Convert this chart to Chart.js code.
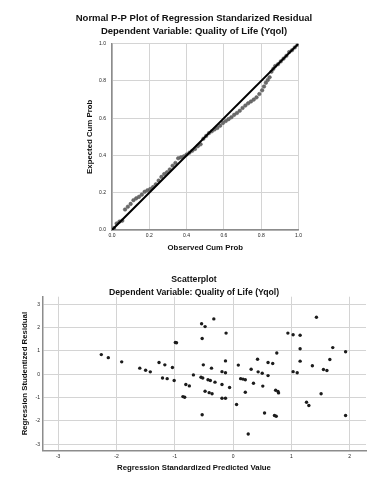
<!DOCTYPE html>
<html lang="en">
<head>
<meta charset="UTF-8">
<meta name="viewport" content="width=device-width, initial-scale=1.0">
<title>Regression plots - Quality of Life</title>
<script src="https://cdn.jsdelivr.net/npm/chart.js"></script>
<style>
  body { margin: 0; background: #fff; width: 375px; height: 480px; overflow: hidden; position: relative; }
  canvas { position: absolute; left: 0; }
  #ppChart { top: 0; }
  #scatterChart { top: 260px; }
</style>
</head>
<body>
<canvas id="ppChart" width="375" height="255"></canvas>
<canvas id="scatterChart" width="375" height="220"></canvas>
<script>
// P-P plot: observed vs expected cumulative probability
const ppObserved = [0.01, 0.025, 0.04, 0.055, 0.07, 0.085, 0.10, 0.115, 0.13, 0.145, 0.16, 0.175, 0.19, 0.205, 0.22,
  0.235, 0.25, 0.265, 0.28, 0.295, 0.31, 0.325, 0.34, 0.355, 0.37, 0.385, 0.40, 0.415, 0.43, 0.445, 0.46, 0.475,
  0.49, 0.505, 0.52, 0.535, 0.55, 0.565, 0.58, 0.595, 0.61, 0.625, 0.64, 0.655, 0.67, 0.685, 0.70, 0.715, 0.73,
  0.745, 0.76, 0.775, 0.79, 0.805, 0.815, 0.825, 0.835, 0.845, 0.855, 0.865, 0.875, 0.89, 0.905, 0.92, 0.935,
  0.95, 0.965, 0.98, 0.995];
const ppExpected = [0.01, 0.035, 0.045, 0.05, 0.11, 0.125, 0.14, 0.16, 0.17, 0.178, 0.19, 0.205, 0.213, 0.22, 0.23,
  0.245, 0.265, 0.285, 0.30, 0.31, 0.325, 0.345, 0.36, 0.385, 0.39, 0.395, 0.405, 0.415, 0.425, 0.435, 0.45, 0.46,
  0.49, 0.505, 0.52, 0.53, 0.54, 0.548, 0.56, 0.575, 0.585, 0.595, 0.605, 0.618, 0.628, 0.64, 0.655, 0.668, 0.68,
  0.69, 0.70, 0.712, 0.73, 0.75, 0.77, 0.79, 0.805, 0.82, 0.85, 0.865, 0.88, 0.89, 0.905, 0.92, 0.935,
  0.955, 0.965, 0.98, 0.995];
const ppLineX = [0, 1];
const ppLineY = [0, 1];
const ppTicks = [0, 0.2, 0.4, 0.6, 0.8, 1.0];

// Scatterplot: standardized predicted value vs studentized residual
const predicted = [-2.26, -2.14, -1.91, -1.60, -1.50, -1.42, -1.27, -1.17, -1.04, -0.99, -0.97, -1.21, -1.13, -1.01,
  -0.81, -0.75, -0.86, -0.83, -0.68, -0.55, -0.52, -0.51, -0.37, -0.54, -0.48, -0.33, -0.53, -0.12, -0.43, -0.39,
  -0.31, -0.19, -0.13, -0.13, -0.48, -0.41, -0.36, -0.19, -0.06, -0.19, -0.13, -0.53, 0.06, 0.26, 0.09, 0.13, 0.17,
  0.21, 0.21, 0.31, 0.35, 0.42, 0.43, 0.50, 0.51, 0.60, 0.60, 0.68, 0.75, 0.73, 0.77, 0.78, 0.54, 0.71, 0.74,
  0.94, 1.03, 1.15, 1.15, 1.15, 1.03, 1.10, 1.36, 1.43, 1.51, 1.26, 1.30, 1.55, 1.61, 1.66, 1.71, 1.93, 1.93];
const residual = [0.84, 0.71, 0.53, 0.26, 0.17, 0.10, 0.50, 0.40, 0.29, 1.36, 1.35, -0.16, -0.19, -0.27,
  -0.44, -0.50, -0.96, -0.99, -0.03, -0.13, -0.16, 0.40, 0.26, 2.16, 2.04, 2.37, 1.53, 1.76, -0.24, -0.27,
  -0.34, 0.11, 0.06, 0.57, -0.73, -0.79, -0.84, -0.44, -0.57, -1.03, -1.03, -1.74, -1.30, -2.56, 0.39, -0.19, -0.21,
  -0.24, -0.77, 0.21, -0.39, 0.64, 0.10, 0.04, -0.51, 0.50, -0.06, 0.46, 0.91, -0.69, -0.74, -0.80, -1.66, -1.77, -1.80,
  1.76, 1.69, 1.67, 1.09, 0.56, 0.11, 0.06, 0.36, 2.44, -0.84, -1.20, -1.34, 0.20, 0.16, 0.63, 1.14, 0.96, -1.77];
const scatterXTicks = [-3, -2, -1, 0, 1, 2];
const scatterYTicks = [-3, -2, -1, 0, 1, 2, 3];

Chart.defaults.font.family = "'Liberation Sans', Arial, sans-serif";
Chart.defaults.color = '#222';

const gridStyle = { color: '#d4d4d4', lineWidth: 1, drawTicks: false };
const borderStyle = { color: '#8c8c8c', width: 1.5 };
const tickFont = { size: 5 };
const axisTitleFont = { size: 7.8, weight: 'bold' };

function useTicks(values) {
  return function(scale) { scale.ticks = values.map(v => ({ value: v })); };
}

// --- top chart ---
new Chart(document.getElementById('ppChart'), {
  type: 'scatter',
  data: {
    datasets: [
      {
        type: 'line',
        data: ppLineX.map((x, i) => ({ x: x, y: ppLineY[i] })),
        borderColor: '#000', borderWidth: 2, pointRadius: 0, order: 0
      },
      {
        data: ppObserved.map((x, i) => ({ x: x, y: ppExpected[i] })),
        backgroundColor: '#6b6b6b', borderColor: '#555', borderWidth: 0.5, pointRadius: 1.8, order: 1
      }
    ]
  },
  options: {
    responsive: false, animation: false, devicePixelRatio: 1,
    layout: { padding: { left: 13, right: 0, top: 0, bottom: 0 } },
    plugins: {
      legend: { display: false }, tooltip: { enabled: false },
      title: {
        display: true,
        text: ['Normal P-P Plot of Regression Standarized Residual', 'Dependent Variable: Quality of Life (Yqol)'],
        color: '#111', font: { size: 9.5, weight: 'bold', lineHeight: 13 / 9.5 },
        padding: { top: 11.5, bottom: 6.2 }
      }
    },
    scales: {
      x: {
        type: 'linear', min: 0, max: 1,
        afterBuildTicks: useTicks(ppTicks),
        ticks: { font: tickFont, padding: 3, callback: v => v.toFixed(1) },
        grid: gridStyle, border: borderStyle,
        title: { display: true, text: 'Observed Cum Prob', font: axisTitleFont, color: '#111', padding: { top: 0, bottom: 2.9 } },
        afterFit: s => { s.height = 25; }
      },
      y: {
        type: 'linear', min: 0, max: 1,
        afterBuildTicks: useTicks(ppTicks),
        ticks: { font: tickFont, padding: 6, callback: v => v.toFixed(1) },
        grid: gridStyle, border: borderStyle,
        title: { display: true, text: 'Expected Cum Prob', font: axisTitleFont, color: '#111', padding: { top: 72.3, bottom: 0 } },
        afterFit: s => { s.width = 99; }
      },
      yr: {
        type: 'linear', position: 'right', display: true,
        grid: { display: false }, ticks: { display: false }, border: { display: false },
        afterFit: s => { s.width = 76.5; }
      }
    }
  }
});

// --- bottom chart ---
new Chart(document.getElementById('scatterChart'), {
  type: 'scatter',
  data: {
    datasets: [{
      data: predicted.map((x, i) => ({ x: x, y: residual[i] })),
      backgroundColor: '#1c1c1c', borderColor: '#1c1c1c', borderWidth: 0, pointRadius: 1.7
    }]
  },
  options: {
    responsive: false, animation: false, devicePixelRatio: 1,
    layout: { padding: { left: 13, right: 0, top: 0, bottom: 0 } },
    plugins: {
      legend: { display: false }, tooltip: { enabled: false },
      title: {
        display: true,
        text: ['Scatterplot', 'Dependent Variable: Quality of Life (Yqol)'],
        color: '#111', font: { size: 8.7, weight: 'bold', lineHeight: 13.4 / 8.7 },
        padding: { top: 12.6, bottom: -2.7 }
      },
      subtitle: {
        display: true, position: 'bottom',
        text: 'Regression Standardized Predicted Value',
        color: '#111', font: axisTitleFont,
        padding: { top: 2.5, bottom: 7.9 }
      }
    },
    scales: {
      x: {
        type: 'linear', min: -3.26, max: 2.28,
        afterBuildTicks: useTicks(scatterXTicks),
        ticks: { font: tickFont, padding: 3 },
        grid: gridStyle, border: borderStyle,
        afterFit: s => { s.height = 9.7; }
      },
      y: {
        type: 'linear', min: -3.27, max: 3.32,
        afterBuildTicks: useTicks(scatterYTicks),
        ticks: { font: tickFont, padding: 3 },
        grid: gridStyle, border: borderStyle,
        title: { display: true, text: 'Regression Studentized Residual', font: axisTitleFont, color: '#111', padding: { top: 7.2, bottom: 0 } },
        afterFit: s => { s.width = 30; }
      },
      yr: {
        type: 'linear', position: 'right', display: true,
        grid: { display: false }, ticks: { display: false }, border: { display: false },
        afterFit: s => { s.width = 9; }
      }
    }
  }
});
</script>
</body>
</html>
